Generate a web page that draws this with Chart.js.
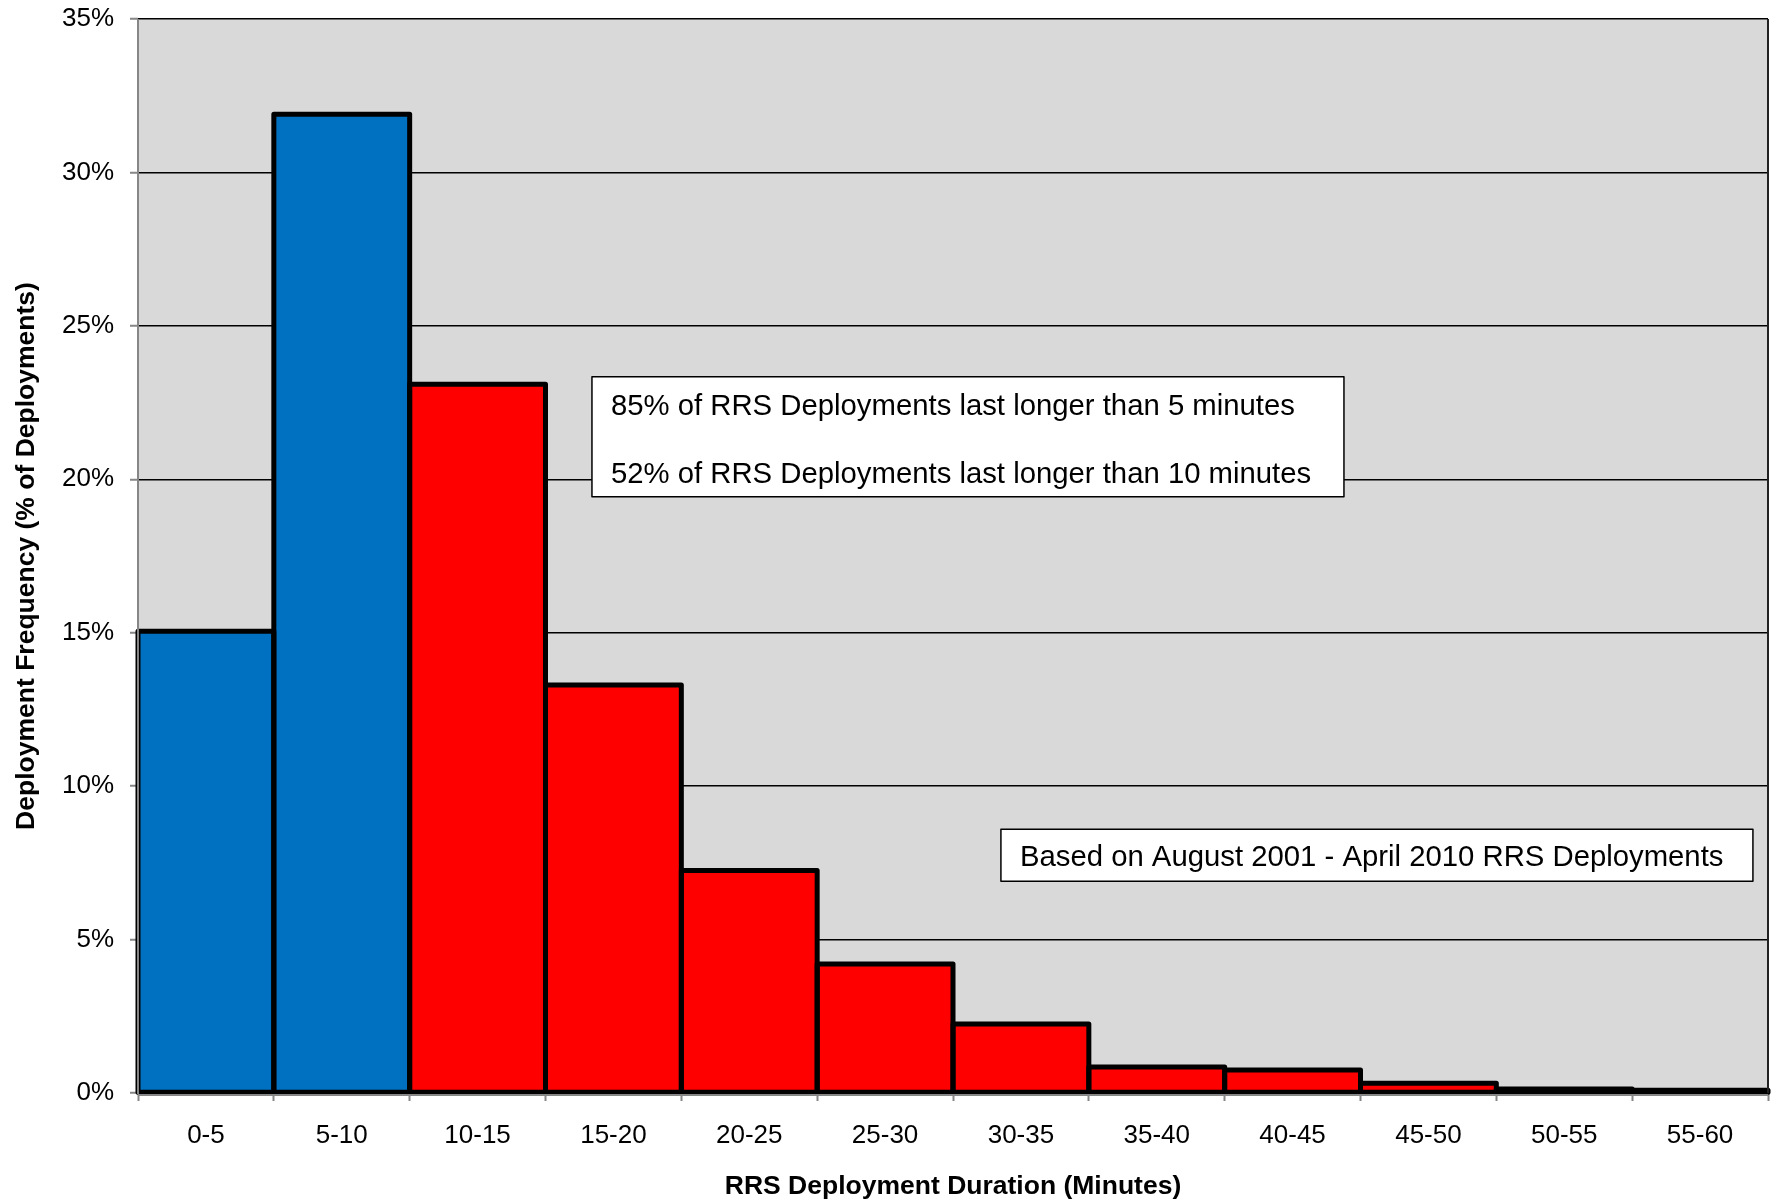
<!DOCTYPE html>
<html>
<head>
<meta charset="utf-8">
<title>RRS Deployment Duration</title>
<script src="https://cdn.jsdelivr.net/npm/chart.js@4.4.1/dist/chart.umd.min.js"></script>
<style>
    html, body { margin: 0; padding: 0; background: #fff; }
    #wrap { width: 1776px; height: 1204px; }
</style>
</head>
<body>
<div id="wrap"><canvas id="durationChart" width="1776" height="1204"></canvas></div>
<script>
// Data
const durationBins = ['0-5', '5-10', '10-15', '15-20', '20-25', '25-30', '30-35', '35-40', '40-45', '45-50', '50-55', '55-60'];
const frequencyPct = [15.05, 31.9, 23.1, 13.3, 7.25, 4.2, 2.25, 0.85, 0.75, 0.32, 0.13, 0.09];
const shortBinCount = 2; // first bins drawn in blue
const yMax = 35;
const yStep = 5;
const summaryLines = [
    '85% of RRS Deployments last longer than 5 minutes',
    '52% of RRS Deployments last longer than 10 minutes'
];
const sourceNote = 'Based on August 2001 - April 2010 RRS Deployments';

const FONT = '"Liberation Sans", Arial, Helvetica, sans-serif';
const BLUE = '#0070C0';
const RED = '#FF0000';
const PLOT_BG = '#D9D9D9';
const AXIS_GREY = '#868686';

// plot area fill
const plotBackground = {
    id: 'plotBackground',
    beforeDraw(chart) {
        const { ctx, chartArea: a } = chart;
        ctx.save();
        ctx.fillStyle = PLOT_BG;
        ctx.fillRect(a.left, a.top, a.right - a.left, a.bottom - a.top);
        ctx.restore();
    }
};

// thick black outlines centred on the bar edges, axis lines on top, text boxes
const barOutlines = {
    id: 'barOutlines',
    afterDatasetsDraw(chart) {
        const { ctx, chartArea: a } = chart;
        const meta = chart.getDatasetMeta(0);
        ctx.save();
        ctx.strokeStyle = '#000';
        ctx.lineWidth = 5;
        ctx.lineJoin = 'round';
        meta.data.forEach(bar => {
            const p = bar.getProps(['x', 'y', 'base', 'width'], true);
            ctx.strokeRect(p.x - p.width / 2, p.y, p.width, p.base - p.y);
        });

        // right frame
        ctx.lineWidth = 2;
        ctx.strokeStyle = '#222';
        ctx.beginPath();
        ctx.moveTo(a.right, a.top);
        ctx.lineTo(a.right, a.bottom);
        ctx.stroke();

        // axis lines drawn over the bars
        ctx.strokeStyle = AXIS_GREY;
        ctx.lineWidth = 2;
        ctx.beginPath();
        ctx.moveTo(a.left, a.top);
        ctx.lineTo(a.left, a.bottom + 1);
        ctx.moveTo(a.left, a.bottom + 2);
        ctx.lineTo(a.right, a.bottom + 2);
        ctx.stroke();

        // annotation boxes
        const w = a.right - a.left;
        const h = a.bottom - a.top;
        ctx.font = '29.3px ' + FONT;
        ctx.textBaseline = 'middle';

        const b1 = { x: a.left + w * 0.2785, y: a.top + h * 0.333, w: 752, h: 120 };
        ctx.fillStyle = '#fff';
        ctx.fillRect(b1.x, b1.y, b1.w, b1.h);
        ctx.strokeStyle = '#000';
        ctx.lineWidth = 1.5;
        ctx.strokeRect(b1.x, b1.y, b1.w, b1.h);
        ctx.fillStyle = '#000';
        summaryLines.forEach((line, i) => {
            ctx.fillText(line, b1.x + 19, b1.y + 30 + i * 68);
        });

        const b2 = { x: a.left + w * 0.5294, y: a.top + h * 0.7545, w: 752, h: 52 };
        ctx.fillStyle = '#fff';
        ctx.fillRect(b2.x, b2.y, b2.w, b2.h);
        ctx.strokeRect(b2.x, b2.y, b2.w, b2.h);
        ctx.fillStyle = '#000';
        ctx.fillText(sourceNote, b2.x + 19, b2.y + 29);
        ctx.restore();
    }
};

const ctx = document.getElementById('durationChart').getContext('2d');

new Chart(ctx, {
    type: 'bar',
    data: {
        labels: durationBins,
        datasets: [{
            label: 'Deployment Frequency',
            data: frequencyPct,
            backgroundColor: durationBins.map((b, i) => i < shortBinCount ? BLUE : RED),
            borderWidth: 0,
            barPercentage: 1.0,
            categoryPercentage: 1.0
        }]
    },
    options: {
        responsive: false,
        animation: false,
        devicePixelRatio: 1,
        layout: { padding: { top: 19, right: 8, left: 0, bottom: 0 } },
        plugins: {
            legend: { display: false },
            tooltip: { enabled: false }
        },
        scales: {
            x: {
                grid: {
                    offset: true,
                    drawOnChartArea: false,
                    tickLength: 8,
                    tickColor: AXIS_GREY,
                    tickWidth: 2
                },
                border: { display: false },
                ticks: {
                    color: '#000',
                    padding: 19,
                    maxRotation: 0,
                    font: { family: FONT, size: 26 }
                },
                title: {
                    display: true,
                    text: 'RRS Deployment Duration (Minutes)',
                    color: '#000',
                    font: { family: FONT, size: 26.5, weight: 'bold' },
                    padding: { top: 0, bottom: 1 }
                },
                afterFit(scale) {
                    scale.height = 111;
                    scale.paddingLeft = 0;
                    scale.paddingRight = 0;
                }
            },
            y: {
                min: 0,
                max: yMax,
                grid: {
                    color: '#000',
                    lineWidth: 1.5,
                    tickLength: 8,
                    tickColor: AXIS_GREY,
                    tickWidth: 2
                },
                border: { display: false },
                ticks: {
                    stepSize: yStep,
                    color: '#000',
                    padding: 16,
                    font: { family: FONT, size: 26 },
                    callback: v => v + '%'
                },
                title: {
                    display: true,
                    text: 'Deployment Frequency (% of Deployments)',
                    color: '#000',
                    font: { family: FONT, size: 26.5, weight: 'bold' },
                    padding: { top: 11, bottom: 0 }
                },
                afterFit(scale) {
                    scale.width = 138;
                    scale.paddingTop = 0;
                    scale.paddingBottom = 0;
                }
            }
        }
    },
    plugins: [plotBackground, barOutlines]
});
</script>
</body>
</html>
